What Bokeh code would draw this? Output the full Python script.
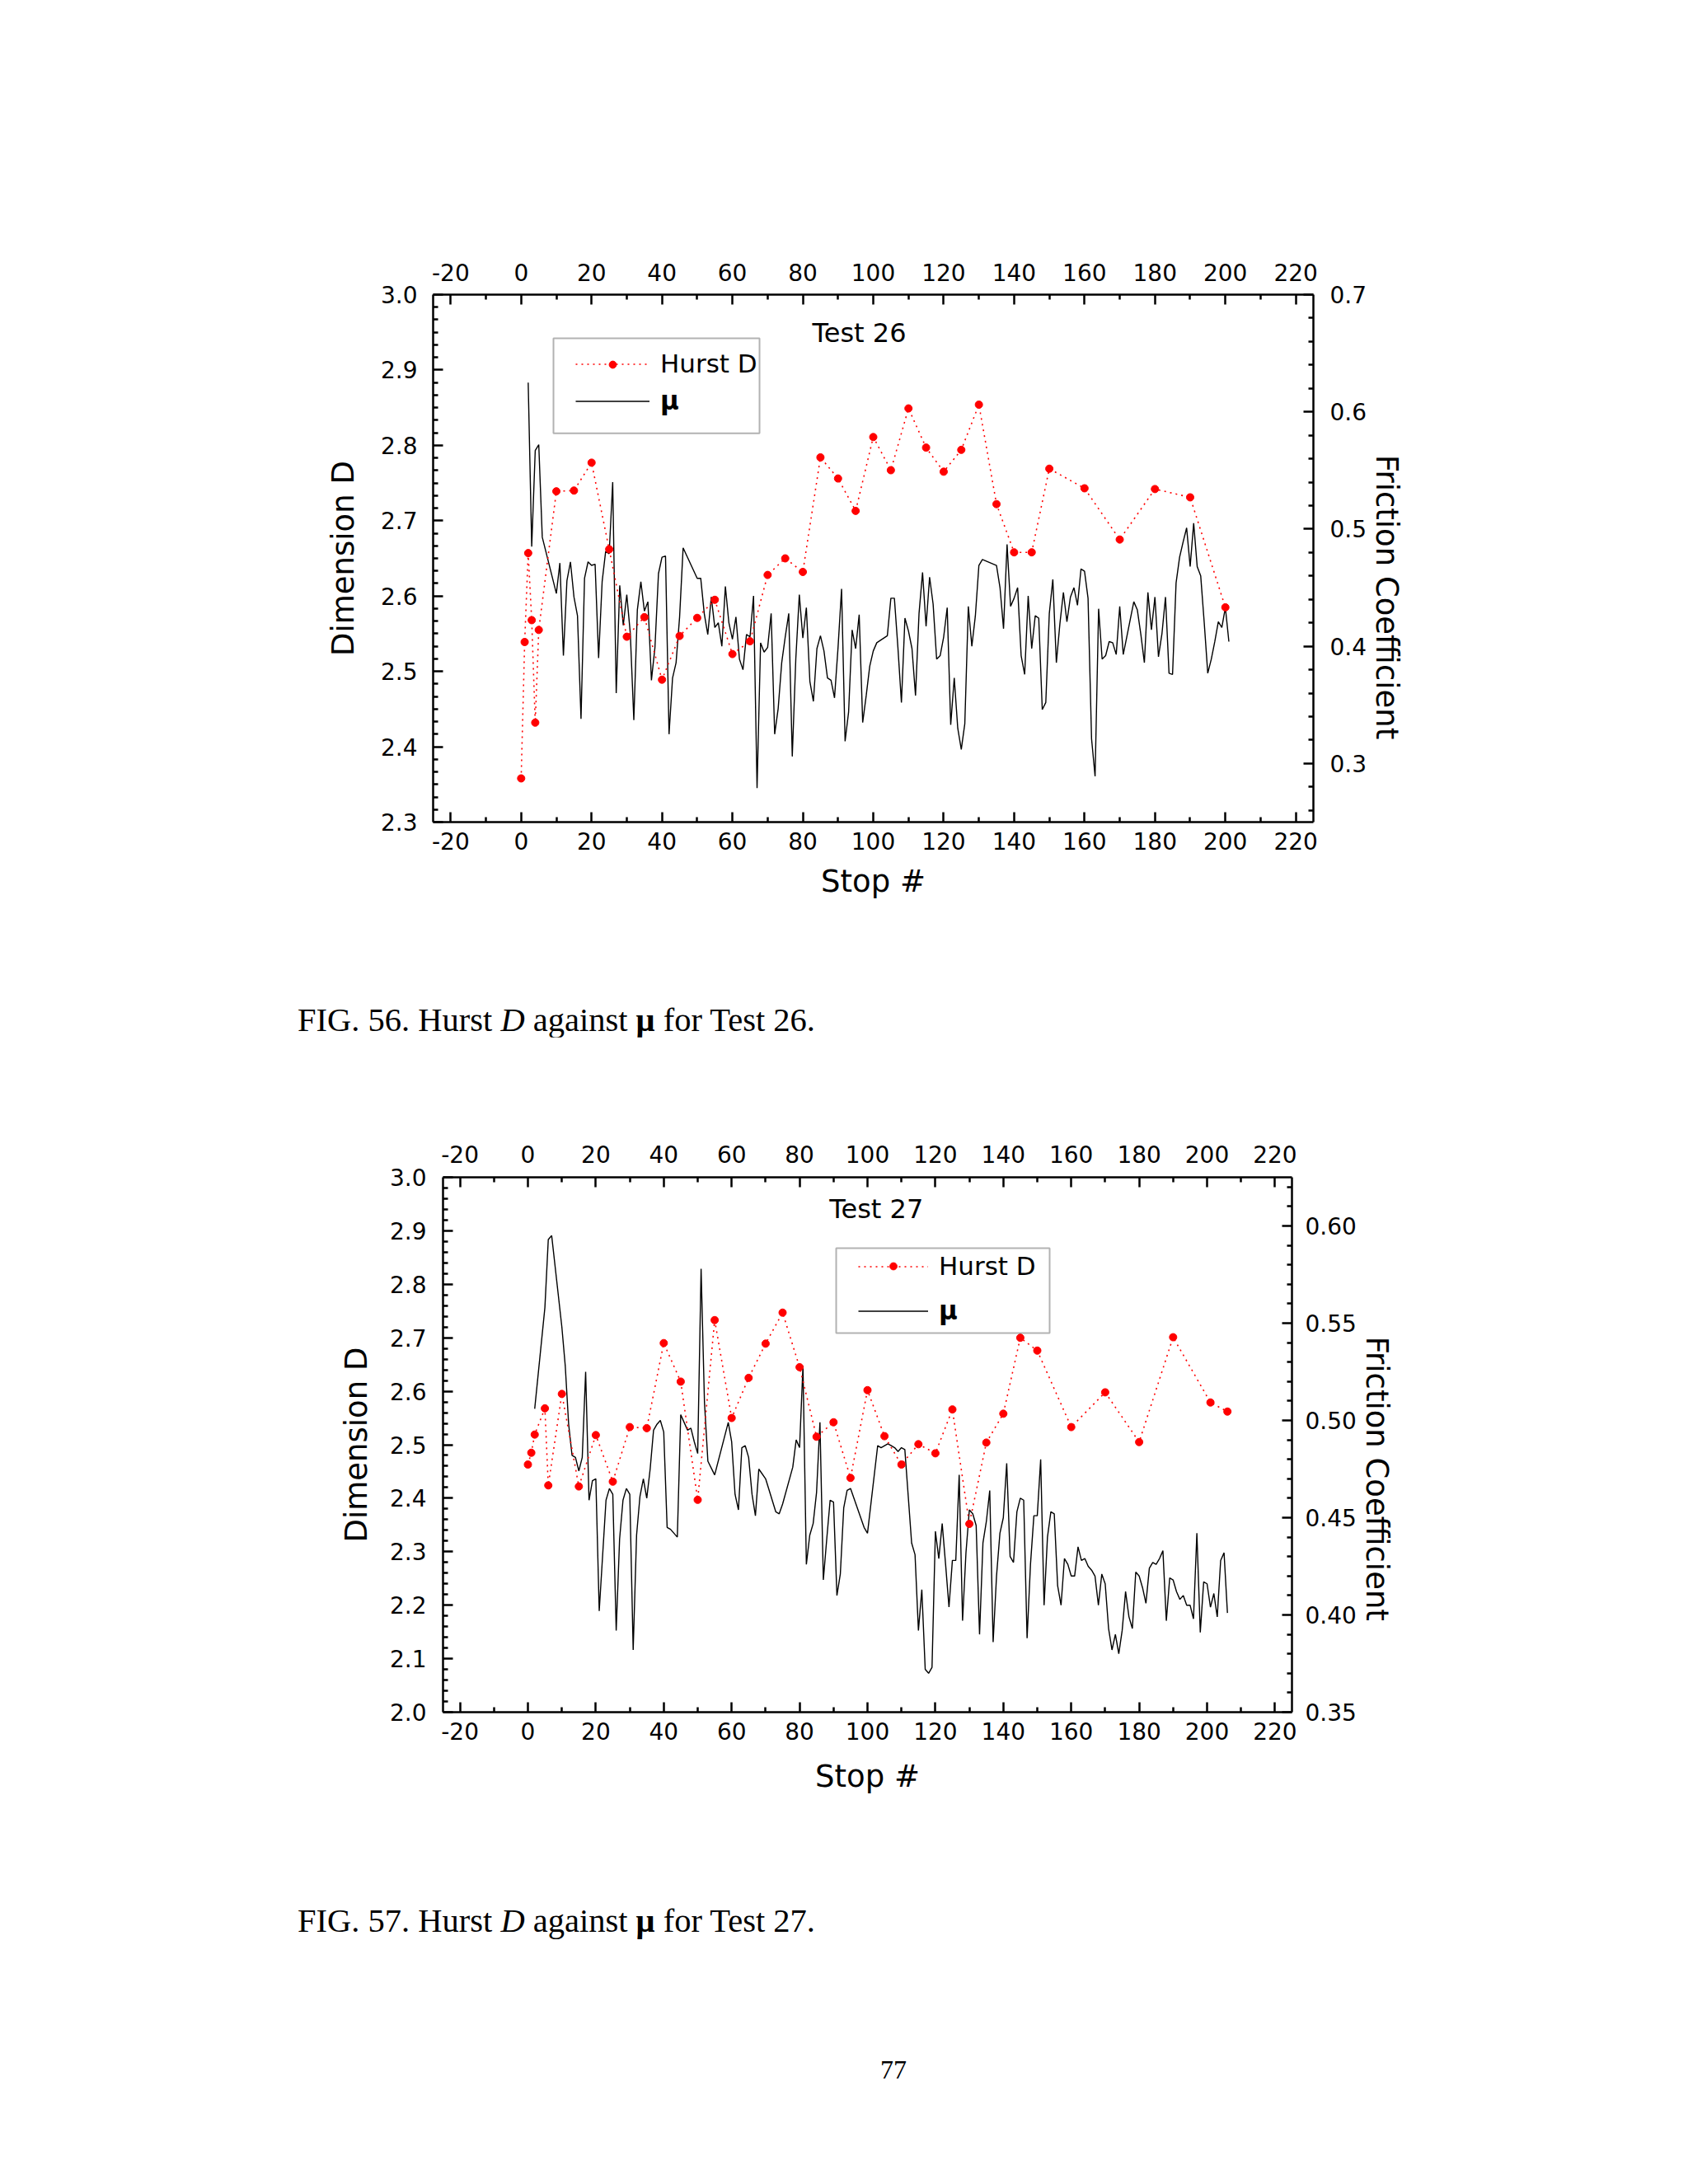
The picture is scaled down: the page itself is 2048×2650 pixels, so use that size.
from bokeh.plotting import figure
from bokeh.models import (Range1d, LinearAxis, FixedTicker, PrintfTickFormatter,
                          Legend, LegendItem, Label, BoxAnnotation, Div)
from bokeh.layouts import column
from bokeh.embed import file_html
from bokeh.resources import INLINE

FONT = "DejaVu Sans"

# ---------------- tick labels ----------------
x_ticks = [-20, 0, 20, 40, 60, 80, 100, 120, 140, 160, 180, 200, 220]
d26_ticks = [2.3, 2.4, 2.5, 2.6, 2.7, 2.8, 2.9, 3.0]
mu26_ticks = [0.3, 0.4, 0.5, 0.6, 0.7]
d27_ticks = [2.0, 2.1, 2.2, 2.3, 2.4, 2.5, 2.6, 2.7, 2.8, 2.9, 3.0]
mu27_ticks = [0.35, 0.40, 0.45, 0.50, 0.55, 0.60]

# ---------------- Test 26 ----------------
hurst26_stop = [0, 1, 2, 3, 4, 5, 10, 15, 20, 25, 30, 35, 40, 45, 50, 55, 60, 65, 70, 75,
                80, 85, 90, 95, 100, 105, 110, 115, 120, 125, 130, 135, 140, 145, 150,
                160, 170, 180, 190, 200]
hurst26_d = [2.358, 2.539, 2.657, 2.568, 2.432, 2.555, 2.739, 2.740, 2.777, 2.662, 2.546,
             2.572, 2.489, 2.547, 2.571, 2.595, 2.523, 2.540, 2.628, 2.650, 2.632, 2.784,
             2.756, 2.713, 2.811, 2.767, 2.849, 2.797, 2.765, 2.794, 2.854, 2.722, 2.658,
             2.658, 2.769, 2.743, 2.675, 2.742, 2.731, 2.585]

mu26_stop = [2, 3, 4, 5, 6, 10, 11, 12, 13, 14, 15, 16, 17, 18, 19, 20, 21, 22, 23, 24, 25,
             26, 27, 28, 29, 30, 31, 32, 33, 34, 35, 36, 37, 38, 39, 40, 41, 42, 43, 44, 45,
             46, 50, 51, 52, 53, 54, 55, 56, 57, 58, 59, 60, 61, 62, 63, 64, 65, 66, 67, 68,
             69, 70, 71, 72, 73, 74, 75, 76, 77, 78, 79, 80, 81, 82, 83, 84, 85, 86, 87, 88,
             89, 90, 91, 92, 93, 94, 95, 96, 97, 98, 99, 100, 101, 104, 105, 106, 107, 108,
             109, 110, 111, 112, 113, 114, 115, 116, 117, 118, 119, 120, 121, 122, 123, 124,
             125, 126, 127, 128, 129, 130, 131, 135, 136, 137, 138, 139, 140, 141, 142, 143,
             144, 145, 146, 147, 148, 149, 150, 151, 152, 153, 154, 155, 156, 157, 158, 159,
             160, 161, 162, 163, 164, 165, 166, 167, 168, 169, 170, 171, 172, 173, 174, 175,
             176, 177, 178, 179, 180, 181, 182, 183, 184, 185, 186, 187, 188, 189, 190, 191,
             192, 193, 194, 195, 196, 197, 198, 199, 200, 201]
mu26 = [0.625, 0.485, 0.567, 0.572, 0.493, 0.445, 0.471, 0.392, 0.456, 0.472, 0.442, 0.426,
        0.338, 0.458, 0.472, 0.469, 0.470, 0.390, 0.455, 0.481, 0.479, 0.540, 0.360, 0.452,
        0.418, 0.444, 0.411, 0.337, 0.431, 0.455, 0.430, 0.438, 0.371, 0.399, 0.462, 0.476,
        0.477, 0.325, 0.373, 0.386, 0.425, 0.484, 0.458, 0.458, 0.428, 0.410, 0.442, 0.416,
        0.420, 0.400, 0.451, 0.420, 0.406, 0.425, 0.389, 0.380, 0.410, 0.408, 0.443, 0.279,
        0.403, 0.395, 0.399, 0.428, 0.325, 0.347, 0.386, 0.408, 0.428, 0.306, 0.389, 0.444,
        0.407, 0.433, 0.370, 0.353, 0.398, 0.409, 0.396, 0.373, 0.371, 0.356, 0.399, 0.449,
        0.319, 0.344, 0.414, 0.398, 0.427, 0.335, 0.358, 0.383, 0.396, 0.403, 0.409, 0.441,
        0.441, 0.399, 0.352, 0.424, 0.413, 0.398, 0.358, 0.428, 0.463, 0.417, 0.459, 0.436,
        0.389, 0.392, 0.408, 0.433, 0.333, 0.373, 0.330, 0.312, 0.334, 0.434, 0.400, 0.426,
        0.469, 0.474, 0.469, 0.450, 0.415, 0.487, 0.434, 0.441, 0.450, 0.392, 0.376, 0.443,
        0.398, 0.426, 0.424, 0.346, 0.352, 0.428, 0.457, 0.386, 0.419, 0.446, 0.421, 0.442,
        0.450, 0.435, 0.466, 0.464, 0.441, 0.321, 0.289, 0.432, 0.389, 0.392, 0.404, 0.403,
        0.393, 0.434, 0.393, 0.408, 0.423, 0.438, 0.431, 0.410, 0.386, 0.446, 0.414, 0.442,
        0.391, 0.411, 0.442, 0.377, 0.376, 0.454, 0.476, 0.489, 0.501, 0.468, 0.505, 0.468,
        0.460, 0.420, 0.377, 0.389, 0.404, 0.421, 0.416, 0.433, 0.404]

# ---------------- Test 27 ----------------
hurst27_stop = [0, 1, 2, 5, 6, 10, 15, 20, 25, 30, 35, 40, 45, 50, 55, 60, 65, 70, 75, 80,
                85, 90, 95, 100, 105, 110, 115, 120, 125, 130, 135, 140, 145, 150, 160, 170,
                180, 190, 201, 206]
hurst27_d = [2.463, 2.485, 2.519, 2.568, 2.424, 2.595, 2.422, 2.518, 2.431, 2.533, 2.531,
             2.690, 2.618, 2.397, 2.733, 2.550, 2.625, 2.689, 2.747, 2.645, 2.515, 2.542,
             2.438, 2.602, 2.516, 2.463, 2.501, 2.484, 2.566, 2.352, 2.504, 2.558, 2.700,
             2.676, 2.533, 2.598, 2.505, 2.701, 2.579, 2.562]

mu27_stop = [2, 5, 6, 7, 10, 11, 12, 13, 14, 15, 16, 17, 18, 19, 20, 21, 23, 24, 25, 26, 27,
             28, 29, 30, 31, 32, 33, 34, 35, 36, 37, 38, 39, 40, 41, 42, 44, 45, 46, 47, 48,
             49, 50, 51, 52, 53, 55, 59, 60, 61, 62, 63, 64, 65, 66, 67, 68, 70, 73, 74, 75,
             78, 79, 80, 81, 82, 83, 84, 85, 86, 87, 88, 89, 90, 91, 92, 93, 94, 95, 99, 100,
             103, 104, 106, 107, 108, 109, 110, 111, 112, 113, 114, 115, 116, 117, 118, 119,
             120, 121, 122, 123, 124, 125, 126, 127, 128, 129, 130, 131, 132, 133, 134, 135,
             136, 137, 138, 139, 140, 141, 142, 143, 144, 145, 146, 147, 148, 149, 150, 151,
             152, 153, 154, 155, 156, 157, 158, 159, 160, 161, 162, 163, 164, 165, 166, 167,
             168, 169, 170, 171, 172, 173, 174, 175, 176, 177, 178, 179, 180, 181, 182, 183,
             184, 185, 186, 187, 188, 189, 190, 191, 192, 193, 194, 195, 196, 197, 198, 199,
             200, 201, 202, 203, 204, 205, 206]
mu27 = [0.506, 0.558, 0.593, 0.595, 0.548, 0.528, 0.498, 0.482, 0.481, 0.474, 0.481, 0.525,
        0.459, 0.469, 0.470, 0.402, 0.459, 0.465, 0.462, 0.392, 0.439, 0.459, 0.465, 0.462,
        0.382, 0.441, 0.461, 0.470, 0.460, 0.475, 0.495, 0.498, 0.500, 0.494, 0.445, 0.444,
        0.440, 0.503, 0.499, 0.495, 0.496, 0.489, 0.483, 0.578, 0.509, 0.479, 0.472, 0.499,
        0.489, 0.462, 0.454, 0.486, 0.487, 0.481, 0.462, 0.451, 0.475, 0.470, 0.453, 0.452,
        0.457, 0.476, 0.490, 0.486, 0.528, 0.426, 0.441, 0.447, 0.463, 0.499, 0.418, 0.439,
        0.459, 0.458, 0.410, 0.421, 0.455, 0.464, 0.465, 0.445, 0.442, 0.487, 0.486, 0.488,
        0.487, 0.486, 0.484, 0.486, 0.485, 0.461, 0.437, 0.431, 0.392, 0.413, 0.372, 0.370,
        0.373, 0.443, 0.429, 0.447, 0.426, 0.404, 0.428, 0.428, 0.472, 0.397, 0.432, 0.454,
        0.452, 0.446, 0.390, 0.437, 0.448, 0.464, 0.386, 0.420, 0.442, 0.450, 0.478, 0.430,
        0.427, 0.453, 0.460, 0.459, 0.388, 0.426, 0.451, 0.451, 0.480, 0.405, 0.440, 0.453,
        0.452, 0.415, 0.405, 0.429, 0.426, 0.420, 0.420, 0.435, 0.428, 0.429, 0.425, 0.423,
        0.420, 0.405, 0.421, 0.416, 0.393, 0.382, 0.390, 0.380, 0.392, 0.412, 0.399, 0.393,
        0.422, 0.420, 0.414, 0.406, 0.424, 0.427, 0.426, 0.429, 0.433, 0.397, 0.419, 0.418,
        0.412, 0.408, 0.410, 0.405, 0.405, 0.398, 0.442, 0.391, 0.417, 0.416, 0.404, 0.411,
        0.399, 0.428, 0.432, 0.401]


def minor_between(majors, n_int, lo, hi):
    step = (majors[1] - majors[0]) / n_int
    out = []
    k = -200
    while True:
        v = majors[0] + k * step
        if v > hi + 1e-9:
            break
        if v >= lo - 1e-9 and (k % n_int) != 0:
            out.append(round(v, 6))
        k += 1
    return out


def style_axis(ax, ticks, minor, fmt, standoff, title=None, title_standoff=0):
    ax.ticker = FixedTicker(ticks=ticks, minor_ticks=minor)
    ax.formatter = PrintfTickFormatter(format=fmt)
    ax.axis_line_width = 2.5
    ax.axis_line_color = "black"
    ax.major_tick_line_width = 2.5
    ax.minor_tick_line_width = 2.5
    ax.major_tick_line_color = "black"
    ax.minor_tick_line_color = "black"
    ax.major_tick_in = 12
    ax.major_tick_out = 0
    ax.minor_tick_in = 6
    ax.minor_tick_out = 0
    ax.major_label_text_font = FONT
    ax.major_label_text_font_size = "28px"
    ax.major_label_text_color = "black"
    ax.major_label_standoff = standoff
    if title is not None:
        ax.axis_label = title
        ax.axis_label_text_font = FONT
        ax.axis_label_text_font_size = "37px"
        ax.axis_label_text_font_style = "normal"
        ax.axis_label_text_color = "black"
        ax.axis_label_standoff = title_standoff


def build(g):
    p = figure(width=g["w"], height=g["h"],
               x_range=Range1d(-25, 225), y_range=Range1d(*g["dr"]),
               x_axis_type=None, y_axis_type=None,
               output_backend="svg", toolbar_location=None,
               min_border_left=g["ml"], min_border_right=g["mr"],
               min_border_top=g["mt"], min_border_bottom=g["mb"],
               margin=g["margin"])
    p.outline_line_color = None
    p.background_fill_color = "white"
    p.border_fill_color = "white"
    p.extra_y_ranges = {"mu": Range1d(*g["mr_range"])}

    xminor = minor_between(x_ticks, 2, -25, 225)
    bottom = LinearAxis()
    style_axis(bottom, x_ticks, xminor, "%d", 12, "Stop #", g["bst"])
    top = LinearAxis()
    style_axis(top, x_ticks, xminor, "%d", g["tso"])
    left = LinearAxis()
    style_axis(left, g["dticks"], minor_between(g["dticks"], g["dn"], *g["dr"]), "%.1f",
               g["lso"], "Dimension D", g["lst"])
    right = LinearAxis(y_range_name="mu")
    # leading no-break spaces push the rotated title down along the axis, as in the original
    style_axis(right, g["mticks"], minor_between(g["mticks"], g["mn"], *g["mr_range"]),
               g["mfmt"], g["rso"], "\u00a0" * g["rpad"] + "Friction Coefficient", g["rst"])
    p.add_layout(bottom, "below")
    p.add_layout(top, "above")
    p.add_layout(left, "left")
    p.add_layout(right, "right")

    mline = p.line(g["mx"], g["my"], y_range_name="mu", line_color="black", line_width=1.4)
    hline = p.line(g["hx"], g["hy"], line_color="red", line_width=1.6, line_dash="2 5")
    hpts = p.scatter(g["hx"], g["hy"], marker="circle", size=9, fill_color="red",
                     line_color="red")
    ghost = p.line([], [], line_alpha=0)

    box = BoxAnnotation(left=g["box"][0], right=g["box"][1], top=g["box"][2],
                        bottom=g["box"][3], fill_color=None, fill_alpha=0,
                        line_color="black", line_width=2)
    p.add_layout(box)

    common = dict(padding=0, margin=0, glyph_width=g["gw"], label_standoff=13,
                  label_text_font=FONT, label_text_color="black",
                  background_fill_alpha=0, border_line_alpha=0)
    leg1 = Legend(items=[LegendItem(label="Hurst D", renderers=[hline]),
                         LegendItem(label=" ", renderers=[mline])],
                  location=g["legloc"], spacing=g["legsp"], glyph_height=35,
                  label_height=35, label_text_font_size="31px", **common)
    leg2 = Legend(items=[LegendItem(label="\u03bc", renderers=[ghost])],
                  location=g["legloc"], glyph_height=35, label_height=35,
                  label_text_font_size="31px", label_text_font_style="bold", **common)
    leg3 = Legend(items=[LegendItem(label=" ", renderers=[hpts])],
                  location=g["mkloc"], glyph_height=22, label_height=22,
                  label_text_font_size="2px", **common)
    p.add_layout(leg1)
    p.add_layout(leg2)
    p.add_layout(leg3)

    p.add_layout(Label(x=g["tpos"][0], y=g["tpos"][1], text=g["title"], text_font=FONT,
                       text_font_size="32px", text_color="black",
                       text_baseline="alphabetic"))
    return p


g26 = dict(w=1753, h=1158, ml=525, mr=160, mt=357, mb=161, margin=(0, 0, 0, 0),
           dr=(2.3, 3.0), mr_range=(0.25, 0.7), dticks=d26_ticks, dn=6,
           mticks=mu26_ticks, mn=5, mfmt="%.1f",
           lso=19, lst=21, rso=20, rst=0, rpad=8, bst=14, tso=17,
           mx=mu26_stop, my=mu26, hx=hurst26_stop, hy=hurst26_d,
           box=(9.18, 67.70, 2.942, 2.816), legloc=(173, 493), mkloc=(173, 544),
           legsp=10, gw=90, title="Test 26", tpos=(82.7, 2.949))

g27 = dict(w=1715, h=1053, ml=525, mr=160, mt=170, mb=234, margin=(0, 0, 0, 12),
           dr=(2.0, 3.0), mr_range=(0.35, 0.625), dticks=d27_ticks, dn=5,
           mticks=mu27_ticks, mn=5, mfmt="%.2f",
           lso=20, lst=16, rso=16, rst=0, rpad=7, bst=20, tso=18,
           mx=mu27_stop, my=mu27, hx=hurst27_stop, hy=hurst27_d,
           box=(90.78, 153.64, 2.8675, 2.7088), legloc=(504, 469), mkloc=(504, 530),
           legsp=19, gw=85, title="Test 27", tpos=(88.8, 2.941))

p1 = build(g26)
p2 = build(g27)

cap_style = ("font-family:'Liberation Serif',serif;font-size:40.5px;line-height:40px;"
             "color:#000;white-space:nowrap;")
cap1 = Div(text='<div style="%s">FIG. 56. Hurst <i>D</i> against <b>&mu;</b> for Test 26.</div>' % cap_style,
           width=900, height=40, margin=(60, 0, 0, 361))
cap2 = Div(text='<div style="%s">FIG. 57. Hurst <i>D</i> against <b>&mu;</b> for Test 27.</div>' % cap_style,
           width=900, height=40, margin=(0, 0, 0, 361))
page = Div(text='<div style="font-family:\'Liberation Serif\',serif;font-size:32px;line-height:32px;color:#000;">77</div>',
           width=100, height=32, margin=(144, 0, 0, 1068))

layout = column(p1, cap1, p2, cap2, page, spacing=0)
open("out.html", "w").write(file_html(layout, INLINE))
